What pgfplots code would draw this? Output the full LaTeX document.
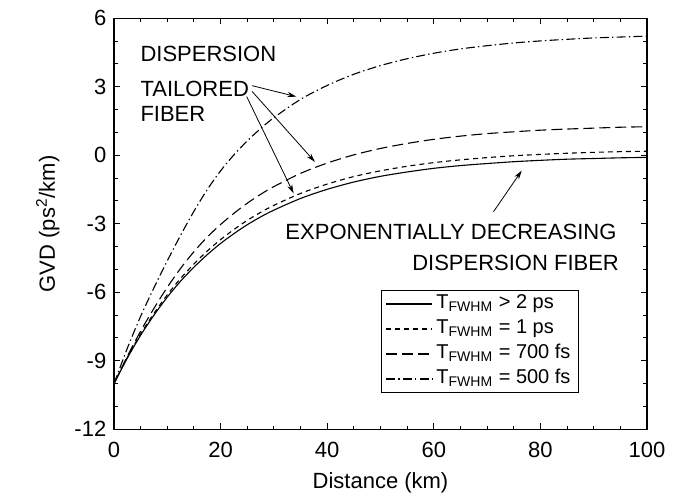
\documentclass[border=0pt]{standalone}
\usepackage{fontspec}
\setmainfont{Liberation Sans}
\usepackage{pgfplots}
\pgfplotsset{compat=1.18}
\usetikzlibrary{arrows.meta}
\begin{document}
\fontsize{11}{13}\selectfont
\begin{tikzpicture}
\begin{axis}[
  scale only axis, width=266.5pt, height=205.5pt,
  xmin=0, xmax=100, ymin=-12, ymax=6,
  xtick={0,20,...,100}, ytick={-12,-9,...,6},
  minor xtick={5,10,...,95}, minor ytick={-11,-10,...,5},
  tick align=inside, major tick length=3pt, minor tick length=1.8pt,
  tick style={line width=0.5pt, black},
  axis line style={line width=0.7pt},
  /pgf/number format/assume math mode=true,
  ticklabel style={font=\fontsize{11}{13}\selectfont},
  xticklabel style={yshift=-2.5pt},
  label style={font=\fontsize{11}{13}\selectfont},
  xlabel={Distance (km)},
  xlabel style={yshift=0pt},
  ylabel={GVD (ps\textsuperscript{2}/km)},
  legend style={at={(0.8724,0.339)}, anchor=north east, draw=black, line width=0.5pt,
    font=\fontsize{10}{12}\selectfont, inner xsep=2pt, inner ysep=0.5pt,
    nodes={text height=7.5pt, text depth=3pt, inner ysep=1pt}, row sep=0pt},
  legend cell align=left,
  legend image code/.code={\draw[#1] (0pt,0pt) -- (23pt,0pt);},
  every axis plot/.append style={line width=0.55pt, black},
  clip=false,
]
\addplot[solid, smooth] coordinates {
(0,-10) (2.5,-8.88) (5,-7.88) (7.5,-7.00) (10,-6.21) (12.5,-5.51) (15,-4.90) (17.5,-4.35) (20,-3.86) (22.5,-3.43) (25,-3.04) (27.5,-2.70) (30,-2.40) (35,-1.89) (40,-1.49) (45,-1.17) (50,-0.92) (55,-0.73) (60,-0.57) (65,-0.45) (70,-0.36) (75,-0.28) (80,-0.22) (85,-0.17) (90,-0.14) (95,-0.11) (100,-0.09)};
\addlegendentry{T\textsubscript{FWHM} > 2 ps}
\addplot[smooth, dash pattern=on 2.5pt off 2pt] coordinates {
(0,-10) (2.5,-8.85) (5,-7.82) (7.5,-6.92) (10,-6.11) (12.5,-5.39) (15,-4.76) (17.5,-4.19) (20,-3.69) (22.5,-3.25) (25,-2.85) (27.5,-2.50) (30,-2.19) (35,-1.67) (40,-1.26) (45,-0.93) (50,-0.68) (55,-0.48) (60,-0.32) (65,-0.20) (70,-0.10) (75,-0.02) (80,0.04) (85,0.09) (90,0.13) (95,0.16) (100,0.18)};
\addlegendentry{T\textsubscript{FWHM} = 1 ps}
\addplot[smooth, dash pattern=on 5.5pt off 2.5pt] coordinates {
(0,-10) (2.5,-8.8) (5,-7.7) (7.5,-6.7) (10,-5.78) (12.5,-4.95) (15,-4.22) (17.5,-3.58) (20,-3.03) (22.5,-2.54) (25,-2.10) (27.5,-1.71) (30,-1.37) (35,-0.79) (40,-0.34) (45,0.02) (50,0.30) (55,0.52) (60,0.70) (65,0.84) (70,0.95) (75,1.03) (80,1.10) (85,1.15) (90,1.19) (95,1.23) (100,1.25)};
\addlegendentry{T\textsubscript{FWHM} = 700 fs}
\addplot[smooth, dash pattern=on 4.5pt off 1.6pt on 0.7pt off 1.6pt] coordinates {
(0,-10) (2.5,-8.45) (5,-7.05) (7.5,-5.8) (10,-4.62) (12.5,-3.5) (15,-2.45) (17.5,-1.5) (20,-0.68) (22.5,0.02) (25,0.63) (27.5,1.17) (30,1.65) (35,2.45) (40,3.06) (45,3.55) (50,3.93) (55,4.23) (60,4.47) (65,4.66) (70,4.80) (75,4.92) (80,5.01) (85,5.08) (90,5.14) (95,5.18) (100,5.22)};
\addlegendentry{T\textsubscript{FWHM} = 500 fs}
\node[anchor=base west, inner sep=0pt] at (axis cs:4.9,4.10) {DISPERSION};
\node[anchor=base west, inner sep=0pt] at (axis cs:4.9,2.57) {TAILORED};
\node[anchor=base west, inner sep=0pt] at (axis cs:4.9,1.47) {FIBER};
\node[anchor=base west, inner sep=0pt] at (axis cs:32.1,-3.67) {EXPONENTIALLY DECREASING};
\node[anchor=base east, inner sep=0pt] at (axis cs:94.8,-5.03) {DISPERSION FIBER};
\draw[-{Stealth[length=4.5pt,width=2.6pt]}, line width=0.4pt] (axis cs:25.9,3.05) -- (axis cs:34.2,2.57);
\draw[-{Stealth[length=4.5pt,width=2.6pt]}, line width=0.4pt] (axis cs:25.9,2.80) -- (axis cs:37.7,-0.29);
\draw[-{Stealth[length=4.5pt,width=2.6pt]}, line width=0.4pt] (axis cs:24.9,2.57) -- (axis cs:33.7,-1.67);
\draw[-{Stealth[length=4.5pt,width=2.6pt]}, line width=0.4pt] (axis cs:71.2,-2.47) -- (axis cs:76.5,-0.67);
\end{axis}
\path ([xshift=-57pt,yshift=-31.35pt]current axis.south west) rectangle ([xshift=23pt,yshift=9.15pt]current axis.north east);
\end{tikzpicture}
\end{document}
